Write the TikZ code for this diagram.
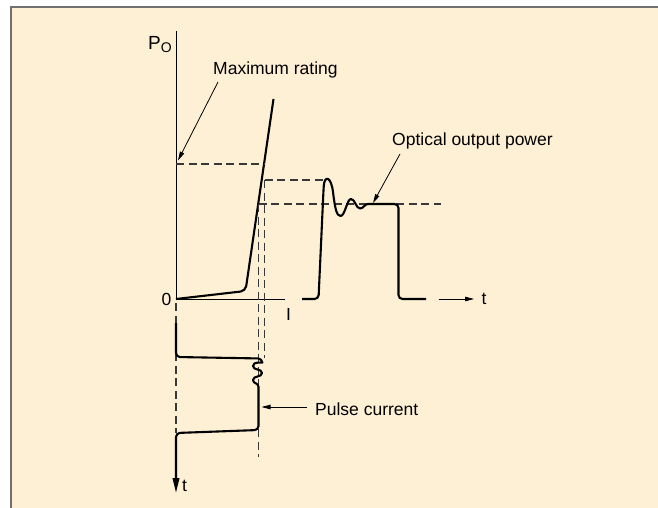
\documentclass[tikz,border=0pt]{standalone}
\usepackage{fontspec}
\setmainfont{Liberation Sans}
\usetikzlibrary{arrows.meta}
\definecolor{cream}{HTML}{FEF0D5}
\definecolor{framegray}{HTML}{707070}
\definecolor{dashgray}{HTML}{383838}
\begin{document}
\begin{tikzpicture}[x=1pt,y=-1pt,
  axisline/.style={line width=1pt,black},
  curve/.style={line width=2.1pt,black,line join=round},
  guide/.style={line width=1.2pt,dashgray,dash pattern=on 8pt off 4.5pt},
  pointer/.style={line width=0.8pt,black,-{Triangle[length=9pt,width=4.5pt]}},
  lbl/.style={inner sep=0pt,font=\fontsize{17.5}{20}\selectfont}]
\useasboundingbox (0,0) rectangle (658,508);
\clip (0,0) rectangle (658,508);
\fill[white] (0,0) rectangle (658,508);
\draw[framegray,line width=1.5pt,fill=cream] (11,7) rectangle (690,540);

% axes
\coordinate (O) at (176,299);
\coordinate (ytop) at (176,31);
\coordinate (xend) at (285,299);
\draw[axisline] (ytop) -- (O) -- (xend);
\node[lbl,anchor=base east] (Po) at (172,50) {\fontsize{19}{20}\selectfont P\raisebox{-2.5pt}{\fontsize{14}{14}\selectfont O}};
\node[lbl] (zero) at (166.5,299) {0};
\node[lbl] (Ilab) at (288.5,314) {I};

% laser characteristic
\coordinate (knee) at (245.5,291);
\coordinate (ctop) at (273.5,99);
\draw[curve,rounded corners=5pt] (O) -- (knee) -- (ctop);

% guide lines
\coordinate (mrA) at (176,164);
\coordinate (mrB) at (264,164);
\draw[guide] (mrA) -- (mrB);
\coordinate (pkA) at (264.5,180);
\coordinate (pkB) at (326,180);
\coordinate (pkD) at (264.5,358);
\draw[guide] (pkA) -- (pkB);
\draw[guide] (pkA) -- (pkD);
\coordinate (ssA) at (258.5,204);
\coordinate (ssB) at (441,204);
\coordinate (ssD) at (258.5,457);
\draw[guide] (ssA) -- (ssB);
\draw[guide] (ssA) -- (ssD);
\coordinate (lgA) at (176,303);
\coordinate (lgB) at (176,433);
\draw[guide] (lgA) -- (lgB);

% pulse current
\coordinate (tbot) at (176,493);
\draw[curve,-{Triangle[length=15pt,width=6.5pt]}] (176,323) [rounded corners=4pt] -- (176,357) -- (262,358.5) [sharp corners]
  .. controls (262.5,363) and (253,361) .. (253,366)
  .. controls (253,370.5) and (262,368.5) .. (262,373)
  .. controls (262,377.5) and (253,375.5) .. (253,380)
  .. controls (253,384) and (258.5,382.5) .. (258.5,387)
  [rounded corners=4pt] -- (258.5,430) -- (176,433) -- (tbot);
\node[lbl,anchor=west] (tdown) at (182,486) {t};

% optical output pulse
\draw[curve] (302,299) [rounded corners=4pt] -- (318.5,299) -- (323.5,190) [sharp corners]
  .. controls (324.5,175) and (331,176) .. (333,192)
  .. controls (335,208) and (336.5,216) .. (340.5,216)
  .. controls (345,216) and (347,199) .. (351,199)
  .. controls (355,199) and (356,208.5) .. (360,208.5)
  .. controls (363.5,208.5) and (364.5,204) .. (368,204)
  [rounded corners=4pt] -- (398.5,204) -- (398.5,299) -- (426,299);
\coordinate (tA) at (438.5,299);
\coordinate (tB) at (474,299);
\draw[pointer] (tA) -- (tB);
\node[lbl] (tright) at (484,298.5) {t};

% labels with pointers
\node[lbl,anchor=base west] (mrtext) at (213,75) {Maximum rating};
\coordinate (mrtail) at (218,82);
\coordinate (mrhead) at (178,160.5);
\draw[pointer] (mrtail) -- (mrhead);

\node[lbl,anchor=base west] (optext) at (392,145) {Optical output power};
\coordinate (optail) at (400,154);
\coordinate (ophead) at (373,203);
\draw[pointer] (optail) -- (ophead);

\node[lbl,anchor=base west] (pctext) at (315,415) {Pulse current};
\coordinate (pctail) at (307,407);
\coordinate (pchead) at (261.5,407);
\draw[pointer] (pctail) -- (pchead);
\end{tikzpicture}
\end{document}
